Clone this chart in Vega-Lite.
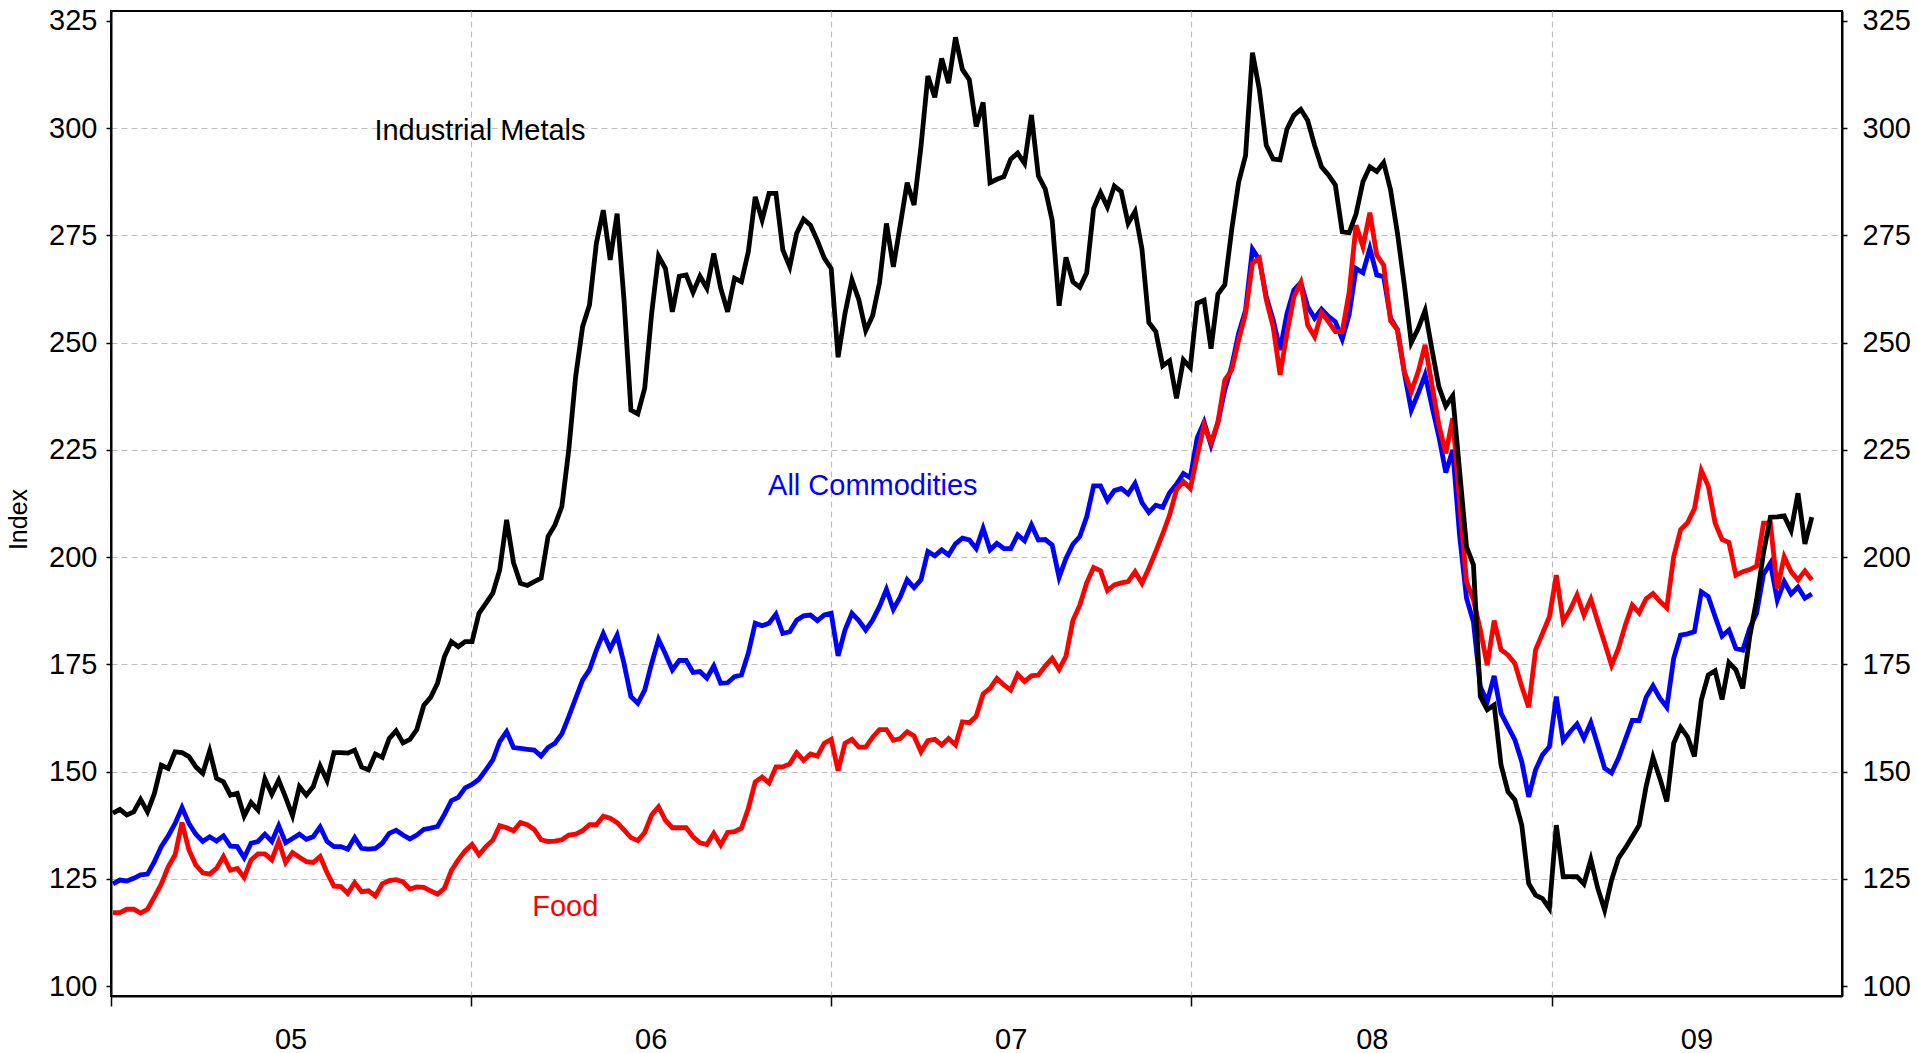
{
"$schema": "https://vega.github.io/schema/vega-lite/v6.json",
"width": 1731, "height": 985,
"autosize": {"type": "none"},
"padding": {"left": 111, "top": 11, "right": 75, "bottom": 57},
"background": "white",
"config": {"view": {"stroke": "#000000", "strokeWidth": 2}, "font": "Liberation Sans"},
"datasets": {
"metals": [
{"date":"2005-01-03","value":140.3},{"date":"2005-01-10","value":141.2},{"date":"2005-01-17","value":139.9},{"date":"2005-01-24","value":140.6},{"date":"2005-01-31","value":143.5},{"date":"2005-02-07","value":140.6},{"date":"2005-02-14","value":144.9},{"date":"2005-02-21","value":151.5},{"date":"2005-02-28","value":150.7},{"date":"2005-03-07","value":154.6},{"date":"2005-03-14","value":154.4},{"date":"2005-03-21","value":153.5},{"date":"2005-03-28","value":151.1},{"date":"2005-04-04","value":149.6},{"date":"2005-04-11","value":154.8},{"date":"2005-04-18","value":148.4},{"date":"2005-04-25","value":147.6},{"date":"2005-05-02","value":144.5},{"date":"2005-05-09","value":144.9},{"date":"2005-05-16","value":139.6},{"date":"2005-05-23","value":142.8},{"date":"2005-05-30","value":141.0},{"date":"2005-06-06","value":148.3},{"date":"2005-06-13","value":144.7},{"date":"2005-06-20","value":148.0},{"date":"2005-06-27","value":144.0},{"date":"2005-07-04","value":139.7},{"date":"2005-07-11","value":146.5},{"date":"2005-07-18","value":144.5},{"date":"2005-07-25","value":146.5},{"date":"2005-08-01","value":151.3},{"date":"2005-08-08","value":147.9},{"date":"2005-08-15","value":154.4},{"date":"2005-08-22","value":154.4},{"date":"2005-08-29","value":154.3},{"date":"2005-09-05","value":155.0},{"date":"2005-09-12","value":151.1},{"date":"2005-09-19","value":150.4},{"date":"2005-09-26","value":154.1},{"date":"2005-10-03","value":153.3},{"date":"2005-10-10","value":157.7},{"date":"2005-10-17","value":159.5},{"date":"2005-10-24","value":156.7},{"date":"2005-10-31","value":157.5},{"date":"2005-11-07","value":159.8},{"date":"2005-11-14","value":165.4},{"date":"2005-11-21","value":167.3},{"date":"2005-11-28","value":170.6},{"date":"2005-12-05","value":176.8},{"date":"2005-12-12","value":180.3},{"date":"2005-12-19","value":179.1},{"date":"2005-12-26","value":180.3},
{"date":"2006-01-02","value":180.3},{"date":"2006-01-09","value":186.9},{"date":"2006-01-16","value":189.2},{"date":"2006-01-23","value":191.6},{"date":"2006-01-30","value":197.0},{"date":"2006-02-06","value":208.7},{"date":"2006-02-13","value":198.7},{"date":"2006-02-20","value":193.9},{"date":"2006-02-27","value":193.4},{"date":"2006-03-06","value":194.3},{"date":"2006-03-13","value":195.1},{"date":"2006-03-20","value":204.8},{"date":"2006-03-27","value":207.5},{"date":"2006-04-03","value":211.8},{"date":"2006-04-10","value":225.0},{"date":"2006-04-17","value":242.1},{"date":"2006-04-24","value":253.7},{"date":"2006-05-01","value":258.8},{"date":"2006-05-08","value":273.2},{"date":"2006-05-15","value":280.9},{"date":"2006-05-22","value":269.3},{"date":"2006-05-29","value":280.1},{"date":"2006-06-05","value":260.0},{"date":"2006-06-12","value":234.3},{"date":"2006-06-19","value":233.4},{"date":"2006-06-26","value":239.4},{"date":"2006-07-03","value":256.8},{"date":"2006-07-10","value":270.2},{"date":"2006-07-17","value":267.3},{"date":"2006-07-24","value":257.2},{"date":"2006-07-31","value":265.5},{"date":"2006-08-07","value":265.8},{"date":"2006-08-14","value":261.7},{"date":"2006-08-21","value":265.5},{"date":"2006-08-28","value":262.7},{"date":"2006-09-04","value":270.8},{"date":"2006-09-11","value":262.7},{"date":"2006-09-18","value":257.2},{"date":"2006-09-25","value":265.0},{"date":"2006-10-02","value":264.2},{"date":"2006-10-09","value":271.2},{"date":"2006-10-16","value":284.0},{"date":"2006-10-23","value":278.6},{"date":"2006-10-30","value":284.8},{"date":"2006-11-06","value":284.8},{"date":"2006-11-13","value":271.6},{"date":"2006-11-20","value":267.7},{"date":"2006-11-27","value":275.5},{"date":"2006-12-04","value":278.8},{"date":"2006-12-11","value":277.4},{"date":"2006-12-18","value":273.8},{"date":"2006-12-25","value":269.7},
{"date":"2007-01-01","value":267.3},{"date":"2007-01-08","value":246.6},{"date":"2007-01-15","value":256.8},{"date":"2007-01-22","value":264.6},{"date":"2007-01-29","value":260.0},{"date":"2007-02-05","value":252.8},{"date":"2007-02-12","value":256.3},{"date":"2007-02-19","value":264.0},{"date":"2007-02-26","value":277.8},{"date":"2007-03-05","value":267.7},{"date":"2007-03-12","value":277.4},{"date":"2007-03-19","value":287.3},{"date":"2007-03-26","value":282.1},{"date":"2007-04-02","value":295.7},{"date":"2007-04-09","value":312.2},{"date":"2007-04-16","value":307.2},{"date":"2007-04-23","value":316.3},{"date":"2007-04-30","value":310.5},{"date":"2007-05-07","value":321.2},{"date":"2007-05-14","value":313.7},{"date":"2007-05-21","value":311.3},{"date":"2007-05-28","value":300.4},{"date":"2007-06-04","value":306.0},{"date":"2007-06-11","value":287.3},{"date":"2007-06-18","value":288.1},{"date":"2007-06-25","value":288.7},{"date":"2007-07-02","value":292.8},{"date":"2007-07-09","value":294.2},{"date":"2007-07-16","value":291.8},{"date":"2007-07-23","value":303.1},{"date":"2007-07-30","value":288.9},{"date":"2007-08-06","value":285.8},{"date":"2007-08-13","value":278.5},{"date":"2007-08-20","value":258.6},{"date":"2007-08-27","value":269.9},{"date":"2007-09-03","value":264.2},{"date":"2007-09-10","value":262.9},{"date":"2007-09-17","value":266.3},{"date":"2007-09-24","value":281.3},{"date":"2007-10-01","value":285.0},{"date":"2007-10-08","value":281.6},{"date":"2007-10-15","value":286.5},{"date":"2007-10-22","value":285.2},{"date":"2007-10-29","value":277.8},{"date":"2007-11-05","value":280.6},{"date":"2007-11-12","value":271.8},{"date":"2007-11-19","value":254.7},{"date":"2007-11-26","value":252.6},{"date":"2007-12-03","value":244.6},{"date":"2007-12-10","value":245.8},{"date":"2007-12-17","value":237.0},{"date":"2007-12-24","value":246.0},{"date":"2007-12-31","value":244.2},
{"date":"2008-01-07","value":259.2},{"date":"2008-01-14","value":259.9},{"date":"2008-01-21","value":248.6},{"date":"2008-01-28","value":261.3},{"date":"2008-02-04","value":263.5},{"date":"2008-02-11","value":276.4},{"date":"2008-02-18","value":287.4},{"date":"2008-02-25","value":293.6},{"date":"2008-03-03","value":317.6},{"date":"2008-03-10","value":309.0},{"date":"2008-03-17","value":296.0},{"date":"2008-03-24","value":292.8},{"date":"2008-03-31","value":292.6},{"date":"2008-04-07","value":299.8},{"date":"2008-04-14","value":303.0},{"date":"2008-04-21","value":304.4},{"date":"2008-04-28","value":301.8},{"date":"2008-05-05","value":296.0},{"date":"2008-05-12","value":291.0},{"date":"2008-05-19","value":289.1},{"date":"2008-05-26","value":286.8},{"date":"2008-06-02","value":275.9},{"date":"2008-06-09","value":275.6},{"date":"2008-06-16","value":280.0},{"date":"2008-06-23","value":287.5},{"date":"2008-06-30","value":291.0},{"date":"2008-07-07","value":289.9},{"date":"2008-07-14","value":292.0},{"date":"2008-07-21","value":285.6},{"date":"2008-07-28","value":275.5},{"date":"2008-08-04","value":263.4},{"date":"2008-08-11","value":250.0},{"date":"2008-08-18","value":253.3},{"date":"2008-08-25","value":257.5},{"date":"2008-09-01","value":248.3},{"date":"2008-09-08","value":239.7},{"date":"2008-09-15","value":235.2},{"date":"2008-09-22","value":237.6},{"date":"2008-09-29","value":220.0},{"date":"2008-10-06","value":202.4},{"date":"2008-10-13","value":198.2},{"date":"2008-10-20","value":167.5},{"date":"2008-10-27","value":164.4},{"date":"2008-11-03","value":165.5},{"date":"2008-11-10","value":151.5},{"date":"2008-11-17","value":145.3},{"date":"2008-11-24","value":143.4},{"date":"2008-12-01","value":137.5},{"date":"2008-12-08","value":123.9},{"date":"2008-12-15","value":121.2},{"date":"2008-12-22","value":120.4},{"date":"2008-12-29","value":118.1},
{"date":"2009-01-05","value":137.5},{"date":"2009-01-12","value":125.5},{"date":"2009-01-19","value":125.5},{"date":"2009-01-26","value":125.5},{"date":"2009-02-02","value":123.8},{"date":"2009-02-09","value":129.5},{"date":"2009-02-16","value":122.8},{"date":"2009-02-23","value":117.7},{"date":"2009-03-02","value":124.7},{"date":"2009-03-09","value":129.8},{"date":"2009-03-16","value":132.2},{"date":"2009-03-23","value":134.8},{"date":"2009-03-30","value":137.5},{"date":"2009-04-06","value":146.5},{"date":"2009-04-13","value":153.3},{"date":"2009-04-20","value":148.4},{"date":"2009-04-27","value":143.0},{"date":"2009-05-04","value":156.6},{"date":"2009-05-11","value":160.3},{"date":"2009-05-18","value":158.1},{"date":"2009-05-25","value":153.5},{"date":"2009-06-01","value":166.7},{"date":"2009-06-08","value":172.5},{"date":"2009-06-15","value":173.5},{"date":"2009-06-22","value":166.8},{"date":"2009-06-29","value":175.4},{"date":"2009-07-06","value":173.7},{"date":"2009-07-13","value":169.4},{"date":"2009-07-20","value":181.4},{"date":"2009-07-27","value":190.0},{"date":"2009-08-03","value":201.0},{"date":"2009-08-10","value":209.3},{"date":"2009-08-17","value":209.4},{"date":"2009-08-24","value":209.6},{"date":"2009-08-31","value":206.2},{"date":"2009-09-07","value":214.9},{"date":"2009-09-14","value":203.1},{"date":"2009-09-21","value":209.3}
],
"all": [
{"date":"2005-01-03","value":123.8},{"date":"2005-01-10","value":124.7},{"date":"2005-01-17","value":124.5},{"date":"2005-01-24","value":125.1},{"date":"2005-01-31","value":125.9},{"date":"2005-02-07","value":126.1},{"date":"2005-02-14","value":129.0},{"date":"2005-02-21","value":132.5},{"date":"2005-02-28","value":135.0},{"date":"2005-03-07","value":137.9},{"date":"2005-03-14","value":141.6},{"date":"2005-03-21","value":137.9},{"date":"2005-03-28","value":135.4},{"date":"2005-04-04","value":133.7},{"date":"2005-04-11","value":134.8},{"date":"2005-04-18","value":133.8},{"date":"2005-04-25","value":135.0},{"date":"2005-05-02","value":132.6},{"date":"2005-05-09","value":132.5},{"date":"2005-05-16","value":129.9},{"date":"2005-05-23","value":133.3},{"date":"2005-05-30","value":133.7},{"date":"2005-06-06","value":135.4},{"date":"2005-06-13","value":133.7},{"date":"2005-06-20","value":137.4},{"date":"2005-06-27","value":133.4},{"date":"2005-07-04","value":134.4},{"date":"2005-07-11","value":135.4},{"date":"2005-07-18","value":134.2},{"date":"2005-07-25","value":134.8},{"date":"2005-08-01","value":137.1},{"date":"2005-08-08","value":133.7},{"date":"2005-08-15","value":132.5},{"date":"2005-08-22","value":132.5},{"date":"2005-08-29","value":131.9},{"date":"2005-09-05","value":134.6},{"date":"2005-09-12","value":132.1},{"date":"2005-09-19","value":131.9},{"date":"2005-09-26","value":132.1},{"date":"2005-10-03","value":133.3},{"date":"2005-10-10","value":135.6},{"date":"2005-10-17","value":136.3},{"date":"2005-10-24","value":135.2},{"date":"2005-10-31","value":134.3},{"date":"2005-11-07","value":135.2},{"date":"2005-11-14","value":136.5},{"date":"2005-11-21","value":136.8},{"date":"2005-11-28","value":137.2},{"date":"2005-12-05","value":140.0},{"date":"2005-12-12","value":143.2},{"date":"2005-12-19","value":144.0},{"date":"2005-12-26","value":146.2},
{"date":"2006-01-02","value":147.0},{"date":"2006-01-09","value":148.2},{"date":"2006-01-16","value":150.4},{"date":"2006-01-23","value":152.7},{"date":"2006-01-30","value":157.0},{"date":"2006-02-06","value":159.3},{"date":"2006-02-13","value":155.6},{"date":"2006-02-20","value":155.4},{"date":"2006-02-27","value":155.2},{"date":"2006-03-06","value":155.0},{"date":"2006-03-13","value":153.6},{"date":"2006-03-20","value":155.6},{"date":"2006-03-27","value":156.6},{"date":"2006-04-03","value":158.8},{"date":"2006-04-10","value":162.8},{"date":"2006-04-17","value":167.1},{"date":"2006-04-24","value":171.3},{"date":"2006-05-01","value":173.7},{"date":"2006-05-08","value":178.3},{"date":"2006-05-15","value":182.2},{"date":"2006-05-22","value":178.6},{"date":"2006-05-29","value":181.8},{"date":"2006-06-05","value":175.2},{"date":"2006-06-12","value":167.5},{"date":"2006-06-19","value":165.9},{"date":"2006-06-26","value":169.0},{"date":"2006-07-03","value":175.2},{"date":"2006-07-10","value":180.8},{"date":"2006-07-17","value":177.4},{"date":"2006-07-24","value":173.7},{"date":"2006-07-31","value":175.9},{"date":"2006-08-07","value":175.9},{"date":"2006-08-14","value":173.1},{"date":"2006-08-21","value":173.3},{"date":"2006-08-28","value":171.8},{"date":"2006-09-04","value":174.6},{"date":"2006-09-11","value":170.6},{"date":"2006-09-18","value":170.7},{"date":"2006-09-25","value":172.1},{"date":"2006-10-02","value":172.5},{"date":"2006-10-09","value":177.6},{"date":"2006-10-16","value":184.6},{"date":"2006-10-23","value":184.0},{"date":"2006-10-30","value":184.6},{"date":"2006-11-06","value":186.7},{"date":"2006-11-13","value":182.2},{"date":"2006-11-20","value":182.6},{"date":"2006-11-27","value":185.3},{"date":"2006-12-04","value":186.3},{"date":"2006-12-11","value":186.5},{"date":"2006-12-18","value":185.2},{"date":"2006-12-25","value":186.5},
{"date":"2007-01-01","value":186.9},{"date":"2007-01-08","value":177.0},{"date":"2007-01-15","value":183.0},{"date":"2007-01-22","value":186.9},{"date":"2007-01-29","value":185.2},{"date":"2007-02-05","value":183.0},{"date":"2007-02-12","value":185.3},{"date":"2007-02-19","value":188.5},{"date":"2007-02-26","value":192.5},{"date":"2007-03-05","value":187.8},{"date":"2007-03-12","value":190.7},{"date":"2007-03-19","value":194.7},{"date":"2007-03-26","value":192.9},{"date":"2007-04-02","value":194.7},{"date":"2007-04-09","value":201.3},{"date":"2007-04-16","value":200.3},{"date":"2007-04-23","value":201.7},{"date":"2007-04-30","value":200.5},{"date":"2007-05-07","value":203.1},{"date":"2007-05-14","value":204.4},{"date":"2007-05-21","value":204.0},{"date":"2007-05-28","value":202.0},{"date":"2007-06-04","value":206.7},{"date":"2007-06-11","value":201.7},{"date":"2007-06-18","value":203.2},{"date":"2007-06-25","value":202.0},{"date":"2007-07-02","value":202.0},{"date":"2007-07-09","value":205.2},{"date":"2007-07-16","value":203.8},{"date":"2007-07-23","value":207.5},{"date":"2007-07-30","value":204.0},{"date":"2007-08-06","value":204.1},{"date":"2007-08-13","value":202.8},{"date":"2007-08-20","value":195.3},{"date":"2007-08-27","value":199.7},{"date":"2007-09-03","value":203.0},{"date":"2007-09-10","value":204.8},{"date":"2007-09-17","value":209.4},{"date":"2007-09-24","value":216.6},{"date":"2007-10-01","value":216.6},{"date":"2007-10-08","value":213.2},{"date":"2007-10-15","value":215.5},{"date":"2007-10-22","value":216.0},{"date":"2007-10-29","value":214.7},{"date":"2007-11-05","value":217.2},{"date":"2007-11-12","value":212.7},{"date":"2007-11-19","value":210.4},{"date":"2007-11-26","value":212.1},{"date":"2007-12-03","value":211.6},{"date":"2007-12-10","value":215.0},{"date":"2007-12-17","value":217.0},{"date":"2007-12-24","value":219.5},{"date":"2007-12-31","value":218.5},
{"date":"2008-01-07","value":227.8},{"date":"2008-01-14","value":231.5},{"date":"2008-01-21","value":226.1},{"date":"2008-01-28","value":231.4},{"date":"2008-02-04","value":239.0},{"date":"2008-02-11","value":244.5},{"date":"2008-02-18","value":252.2},{"date":"2008-02-25","value":257.6},{"date":"2008-03-03","value":271.8},{"date":"2008-03-10","value":269.3},{"date":"2008-03-17","value":260.7},{"date":"2008-03-24","value":255.3},{"date":"2008-03-31","value":248.3},{"date":"2008-04-07","value":256.8},{"date":"2008-04-14","value":262.3},{"date":"2008-04-21","value":264.0},{"date":"2008-04-28","value":258.4},{"date":"2008-05-05","value":255.7},{"date":"2008-05-12","value":257.8},{"date":"2008-05-19","value":256.1},{"date":"2008-05-26","value":254.9},{"date":"2008-06-02","value":250.8},{"date":"2008-06-09","value":256.5},{"date":"2008-06-16","value":267.3},{"date":"2008-06-23","value":266.3},{"date":"2008-06-30","value":272.0},{"date":"2008-07-07","value":265.8},{"date":"2008-07-14","value":265.4},{"date":"2008-07-21","value":255.7},{"date":"2008-07-28","value":253.0},{"date":"2008-08-04","value":242.9},{"date":"2008-08-11","value":234.3},{"date":"2008-08-18","value":238.2},{"date":"2008-08-25","value":242.5},{"date":"2008-09-01","value":235.1},{"date":"2008-09-08","value":228.1},{"date":"2008-09-15","value":219.7},{"date":"2008-09-22","value":225.0},{"date":"2008-09-29","value":205.0},{"date":"2008-10-06","value":190.4},{"date":"2008-10-13","value":184.9},{"date":"2008-10-20","value":169.8},{"date":"2008-10-27","value":166.3},{"date":"2008-11-03","value":172.3},{"date":"2008-11-10","value":163.6},{"date":"2008-11-17","value":160.5},{"date":"2008-11-24","value":157.4},{"date":"2008-12-01","value":152.3},{"date":"2008-12-08","value":144.1},{"date":"2008-12-15","value":150.4},{"date":"2008-12-22","value":153.9},{"date":"2008-12-29","value":155.8},
{"date":"2009-01-05","value":167.5},{"date":"2009-01-12","value":157.2},{"date":"2009-01-19","value":159.3},{"date":"2009-01-26","value":161.1},{"date":"2009-02-02","value":157.7},{"date":"2009-02-09","value":161.4},{"date":"2009-02-16","value":156.2},{"date":"2009-02-23","value":150.8},{"date":"2009-03-02","value":149.7},{"date":"2009-03-09","value":153.1},{"date":"2009-03-16","value":157.5},{"date":"2009-03-23","value":161.9},{"date":"2009-03-30","value":161.9},{"date":"2009-04-06","value":167.3},{"date":"2009-04-13","value":170.0},{"date":"2009-04-20","value":167.1},{"date":"2009-04-27","value":165.0},{"date":"2009-05-04","value":176.4},{"date":"2009-05-11","value":181.8},{"date":"2009-05-18","value":182.1},{"date":"2009-05-25","value":182.6},{"date":"2009-06-01","value":191.9},{"date":"2009-06-08","value":190.8},{"date":"2009-06-15","value":186.1},{"date":"2009-06-22","value":181.6},{"date":"2009-06-29","value":183.0},{"date":"2009-07-06","value":178.7},{"date":"2009-07-13","value":178.3},{"date":"2009-07-20","value":183.4},{"date":"2009-07-27","value":186.9},{"date":"2009-08-03","value":196.0},{"date":"2009-08-10","value":198.6},{"date":"2009-08-17","value":190.0},{"date":"2009-08-24","value":194.3},{"date":"2009-08-31","value":191.4},{"date":"2009-09-07","value":193.0},{"date":"2009-09-14","value":190.4},{"date":"2009-09-21","value":191.4}
],
"food": [
{"date":"2005-01-03","value":117.1},{"date":"2005-01-10","value":117.1},{"date":"2005-01-17","value":117.9},{"date":"2005-01-24","value":117.9},{"date":"2005-01-31","value":117.0},{"date":"2005-02-07","value":117.9},{"date":"2005-02-14","value":120.8},{"date":"2005-02-21","value":123.8},{"date":"2005-02-28","value":127.8},{"date":"2005-03-07","value":130.6},{"date":"2005-03-14","value":138.1},{"date":"2005-03-21","value":131.7},{"date":"2005-03-28","value":128.2},{"date":"2005-04-04","value":126.4},{"date":"2005-04-11","value":126.1},{"date":"2005-04-18","value":127.4},{"date":"2005-04-25","value":130.2},{"date":"2005-05-02","value":127.0},{"date":"2005-05-09","value":127.4},{"date":"2005-05-16","value":125.3},{"date":"2005-05-23","value":129.4},{"date":"2005-05-30","value":130.8},{"date":"2005-06-06","value":130.8},{"date":"2005-06-13","value":129.4},{"date":"2005-06-20","value":133.7},{"date":"2005-06-27","value":128.8},{"date":"2005-07-04","value":131.1},{"date":"2005-07-11","value":130.0},{"date":"2005-07-18","value":129.0},{"date":"2005-07-25","value":128.8},{"date":"2005-08-01","value":130.2},{"date":"2005-08-08","value":126.4},{"date":"2005-08-15","value":123.3},{"date":"2005-08-22","value":123.2},{"date":"2005-08-29","value":121.6},{"date":"2005-09-05","value":124.1},{"date":"2005-09-12","value":122.0},{"date":"2005-09-19","value":122.2},{"date":"2005-09-26","value":121.0},{"date":"2005-10-03","value":123.8},{"date":"2005-10-10","value":124.6},{"date":"2005-10-17","value":124.8},{"date":"2005-10-24","value":124.3},{"date":"2005-10-31","value":122.6},{"date":"2005-11-07","value":123.1},{"date":"2005-11-14","value":123.0},{"date":"2005-11-21","value":122.2},{"date":"2005-11-28","value":121.4},{"date":"2005-12-05","value":122.8},{"date":"2005-12-12","value":126.9},{"date":"2005-12-19","value":129.4},{"date":"2005-12-26","value":131.5},
{"date":"2006-01-02","value":133.0},{"date":"2006-01-09","value":130.6},{"date":"2006-01-16","value":132.5},{"date":"2006-01-23","value":134.0},{"date":"2006-01-30","value":137.4},{"date":"2006-02-06","value":136.9},{"date":"2006-02-13","value":136.2},{"date":"2006-02-20","value":138.1},{"date":"2006-02-27","value":137.6},{"date":"2006-03-06","value":136.5},{"date":"2006-03-13","value":134.1},{"date":"2006-03-20","value":133.7},{"date":"2006-03-27","value":133.8},{"date":"2006-04-03","value":134.1},{"date":"2006-04-10","value":135.2},{"date":"2006-04-17","value":135.4},{"date":"2006-04-24","value":136.2},{"date":"2006-05-01","value":137.6},{"date":"2006-05-08","value":137.6},{"date":"2006-05-15","value":139.6},{"date":"2006-05-22","value":139.1},{"date":"2006-05-29","value":138.1},{"date":"2006-06-05","value":136.4},{"date":"2006-06-12","value":134.6},{"date":"2006-06-19","value":133.9},{"date":"2006-06-26","value":135.8},{"date":"2006-07-03","value":139.9},{"date":"2006-07-10","value":141.8},{"date":"2006-07-17","value":138.6},{"date":"2006-07-24","value":136.9},{"date":"2006-07-31","value":136.9},{"date":"2006-08-07","value":136.9},{"date":"2006-08-14","value":134.8},{"date":"2006-08-21","value":133.4},{"date":"2006-08-28","value":133.0},{"date":"2006-09-04","value":135.6},{"date":"2006-09-11","value":132.9},{"date":"2006-09-18","value":135.8},{"date":"2006-09-25","value":136.0},{"date":"2006-10-02","value":136.8},{"date":"2006-10-09","value":141.4},{"date":"2006-10-16","value":147.6},{"date":"2006-10-23","value":148.7},{"date":"2006-10-30","value":147.3},{"date":"2006-11-06","value":151.1},{"date":"2006-11-13","value":151.1},{"date":"2006-11-20","value":151.8},{"date":"2006-11-27","value":154.4},{"date":"2006-12-04","value":152.6},{"date":"2006-12-11","value":154.1},{"date":"2006-12-18","value":153.6},{"date":"2006-12-25","value":156.6},
{"date":"2007-01-01","value":157.5},{"date":"2007-01-08","value":150.2},{"date":"2007-01-15","value":156.6},{"date":"2007-01-22","value":157.5},{"date":"2007-01-29","value":155.7},{"date":"2007-02-05","value":155.7},{"date":"2007-02-12","value":158.0},{"date":"2007-02-19","value":159.8},{"date":"2007-02-26","value":159.8},{"date":"2007-03-05","value":157.3},{"date":"2007-03-12","value":157.7},{"date":"2007-03-19","value":159.3},{"date":"2007-03-26","value":158.3},{"date":"2007-04-02","value":154.6},{"date":"2007-04-09","value":157.2},{"date":"2007-04-16","value":157.5},{"date":"2007-04-23","value":156.2},{"date":"2007-04-30","value":157.7},{"date":"2007-05-07","value":156.2},{"date":"2007-05-14","value":161.6},{"date":"2007-05-21","value":161.4},{"date":"2007-05-28","value":162.9},{"date":"2007-06-04","value":168.1},{"date":"2007-06-11","value":169.4},{"date":"2007-06-18","value":171.7},{"date":"2007-06-25","value":170.2},{"date":"2007-07-02","value":169.0},{"date":"2007-07-09","value":172.7},{"date":"2007-07-16","value":171.0},{"date":"2007-07-23","value":172.3},{"date":"2007-07-30","value":172.5},{"date":"2007-08-06","value":174.6},{"date":"2007-08-13","value":176.4},{"date":"2007-08-20","value":173.8},{"date":"2007-08-27","value":176.9},{"date":"2007-09-03","value":185.2},{"date":"2007-09-10","value":188.8},{"date":"2007-09-17","value":194.0},{"date":"2007-09-24","value":197.6},{"date":"2007-10-01","value":196.8},{"date":"2007-10-08","value":192.2},{"date":"2007-10-15","value":193.5},{"date":"2007-10-22","value":194.0},{"date":"2007-10-29","value":194.3},{"date":"2007-11-05","value":196.6},{"date":"2007-11-12","value":193.9},{"date":"2007-11-19","value":197.4},{"date":"2007-11-26","value":201.3},{"date":"2007-12-03","value":205.4},{"date":"2007-12-10","value":209.8},{"date":"2007-12-17","value":215.7},{"date":"2007-12-24","value":217.6},{"date":"2007-12-31","value":216.0},
{"date":"2008-01-07","value":223.6},{"date":"2008-01-14","value":230.8},{"date":"2008-01-21","value":226.6},{"date":"2008-01-28","value":231.4},{"date":"2008-02-04","value":241.3},{"date":"2008-02-11","value":243.6},{"date":"2008-02-18","value":250.6},{"date":"2008-02-25","value":256.8},{"date":"2008-03-03","value":268.5},{"date":"2008-03-10","value":269.7},{"date":"2008-03-17","value":260.0},{"date":"2008-03-24","value":253.7},{"date":"2008-03-31","value":242.5},{"date":"2008-04-07","value":252.2},{"date":"2008-04-14","value":260.7},{"date":"2008-04-21","value":264.0},{"date":"2008-04-28","value":254.1},{"date":"2008-05-05","value":251.4},{"date":"2008-05-12","value":257.0},{"date":"2008-05-19","value":254.9},{"date":"2008-05-26","value":252.6},{"date":"2008-06-02","value":252.6},{"date":"2008-06-09","value":261.7},{"date":"2008-06-16","value":277.4},{"date":"2008-06-23","value":272.4},{"date":"2008-06-30","value":280.3},{"date":"2008-07-07","value":270.4},{"date":"2008-07-14","value":268.1},{"date":"2008-07-21","value":255.1},{"date":"2008-07-28","value":253.0},{"date":"2008-08-04","value":243.2},{"date":"2008-08-11","value":238.6},{"date":"2008-08-18","value":243.2},{"date":"2008-08-25","value":249.5},{"date":"2008-09-01","value":240.1},{"date":"2008-09-08","value":230.8},{"date":"2008-09-15","value":224.2},{"date":"2008-09-22","value":232.4},{"date":"2008-09-29","value":213.0},{"date":"2008-10-06","value":194.3},{"date":"2008-10-13","value":190.0},{"date":"2008-10-20","value":183.0},{"date":"2008-10-27","value":174.8},{"date":"2008-11-03","value":185.2},{"date":"2008-11-10","value":178.4},{"date":"2008-11-17","value":177.2},{"date":"2008-11-24","value":175.2},{"date":"2008-12-01","value":169.8},{"date":"2008-12-08","value":165.0},{"date":"2008-12-15","value":178.4},{"date":"2008-12-22","value":182.2},{"date":"2008-12-29","value":186.1},
{"date":"2009-01-05","value":195.8},{"date":"2009-01-12","value":185.0},{"date":"2009-01-19","value":187.7},{"date":"2009-01-26","value":191.2},{"date":"2009-02-02","value":186.5},{"date":"2009-02-09","value":190.2},{"date":"2009-02-16","value":185.0},{"date":"2009-02-23","value":180.0},{"date":"2009-03-02","value":174.8},{"date":"2009-03-09","value":178.7},{"date":"2009-03-16","value":184.2},{"date":"2009-03-23","value":188.8},{"date":"2009-03-30","value":187.0},{"date":"2009-04-06","value":190.3},{"date":"2009-04-13","value":191.5},{"date":"2009-04-20","value":189.7},{"date":"2009-04-27","value":188.2},{"date":"2009-05-04","value":200.1},{"date":"2009-05-11","value":206.4},{"date":"2009-05-18","value":208.0},{"date":"2009-05-25","value":211.3},{"date":"2009-06-01","value":220.2},{"date":"2009-06-08","value":216.6},{"date":"2009-06-15","value":207.9},{"date":"2009-06-22","value":204.1},{"date":"2009-06-29","value":203.4},{"date":"2009-07-06","value":195.8},{"date":"2009-07-13","value":196.6},{"date":"2009-07-20","value":197.1},{"date":"2009-07-27","value":197.9},{"date":"2009-08-03","value":207.9},{"date":"2009-08-10","value":207.9},{"date":"2009-08-17","value":192.7},{"date":"2009-08-24","value":200.1},{"date":"2009-08-31","value":196.6},{"date":"2009-09-07","value":194.7},{"date":"2009-09-14","value":196.8},{"date":"2009-09-21","value":194.7}
],
"labels": [
{"label":"Industrial Metals","date":"2005-09-25","value":299.4},
{"label":"All Commodities","date":"2006-10-29","value":216.5},
{"label":"Food","date":"2006-03-04","value":118.4}
]
},
"layer": [
{
"data": {"name": "all"},
"mark": {"type": "line", "color": "#0000ff", "strokeWidth": 4.8},
"encoding": {
"x": {"field": "date", "type": "temporal",
"scale": {"type": "utc", "domain": [{"year":2005,"month":1,"date":1,"utc":true},{"year":2009,"month":10,"date":21,"hours":14,"utc":true}]},
"axis": {"orient": "bottom", "title": null,
"values": [{"year":2005,"month":1,"date":1,"utc":true},{"year":2006,"month":1,"date":1,"utc":true},{"year":2007,"month":1,"date":1,"utc":true},{"year":2008,"month":1,"date":1,"utc":true},{"year":2009,"month":1,"date":1,"utc":true}],
"labels": false, "ticks": true, "tickSize": 10, "tickColor": "#000000", "tickWidth": 1.5,
"domain": true, "domainColor": "#000000", "domainWidth": 2,
"grid": true, "gridColor": "#bdbdbd", "gridDash": [6,4], "gridWidth": 1.2}},
"y": {"field": "value", "type": "quantitative",
"scale": {"domain": [97.67, 327.33], "zero": false, "nice": false},
"axis": {"orient": "left",
"values": [100,125,150,175,200,225,250,275,300,325],
"title": "Index", "titleFont": "Liberation Sans", "titleFontSize": 25, "titleFontWeight": "normal", "titleColor": "#000000",
"titleAngle": -90, "titleX": -93, "titleY": 508, "titleAlign": "center", "titleBaseline": "middle",
"tickSize": 5, "tickColor": "#000000", "tickWidth": 1.5,
"labelPadding": 9, "labelFont": "Liberation Sans", "labelFontSize": 29, "labelColor": "#000000", "labelFlush": false, "labelOverlap": false,
"domain": true, "domainColor": "#000000", "domainWidth": 2,
"grid": true, "gridColor": "#bdbdbd", "gridDash": [6,4], "gridWidth": 1.2,
"gridOpacity": {"condition": {"test": "datum.value === 100 || datum.value === 325", "value": 0}, "value": 1}}}
}
},
{
"data": {"name": "food"},
"mark": {"type": "line", "color": "#ff0000", "strokeWidth": 4.8},
"encoding": {
"x": {"field": "date", "type": "temporal",
"scale": {"type": "utc", "domain": [{"year":2005,"month":1,"date":1,"utc":true},{"year":2009,"month":10,"date":21,"hours":14,"utc":true}]},
"axis": {"orient": "bottom", "title": null,
"values": [{"year":2005,"month":7,"date":2,"utc":true},{"year":2006,"month":7,"date":2,"utc":true},{"year":2007,"month":7,"date":2,"utc":true},{"year":2008,"month":7,"date":2,"utc":true},{"year":2009,"month":5,"date":27,"utc":true}],
"format": "%y", "ticks": false, "tickSize": 0, "domain": false, "grid": false,
"labelPadding": 29, "labelFont": "Liberation Sans", "labelFontSize": 29, "labelColor": "#000000", "labelFlush": false, "labelOverlap": false}},
"y": {"field": "value", "type": "quantitative",
"scale": {"domain": [97.67, 327.33], "zero": false, "nice": false},
"axis": {"orient": "right", "title": null,
"values": [100,125,150,175,200,225,250,275,300,325],
"tickSize": 5, "tickColor": "#000000", "tickWidth": 1.5,
"labelPadding": 15, "labelFont": "Liberation Sans", "labelFontSize": 29, "labelColor": "#000000", "labelFlush": false, "labelOverlap": false,
"domain": true, "domainColor": "#000000", "domainWidth": 2, "grid": false}}
}
},
{
"data": {"name": "metals"},
"mark": {"type": "line", "color": "#000000", "strokeWidth": 4.8},
"encoding": {
"x": {"field": "date", "type": "temporal",
"scale": {"type": "utc", "domain": [{"year":2005,"month":1,"date":1,"utc":true},{"year":2009,"month":10,"date":21,"hours":14,"utc":true}]},
"axis": null},
"y": {"field": "value", "type": "quantitative",
"scale": {"domain": [97.67, 327.33], "zero": false, "nice": false},
"axis": null}
}
},
{
"data": {"name": "labels"},
"mark": {"type": "text", "align": "left", "baseline": "middle", "font": "Liberation Sans", "fontSize": 29},
"encoding": {
"x": {"field": "date", "type": "temporal",
"scale": {"type": "utc", "domain": [{"year":2005,"month":1,"date":1,"utc":true},{"year":2009,"month":10,"date":21,"hours":14,"utc":true}]},
"axis": null},
"y": {"field": "value", "type": "quantitative",
"scale": {"domain": [97.67, 327.33], "zero": false, "nice": false},
"axis": null},
"text": {"field": "label", "type": "nominal"},
"color": {"field": "label", "type": "nominal",
"scale": {"domain": ["Industrial Metals", "All Commodities", "Food"], "range": ["#000000", "#0000ff", "#ff0000"]},
"legend": null}
}
}
],
"resolve": {"axis": {"x": "independent", "y": "independent"}}
}
